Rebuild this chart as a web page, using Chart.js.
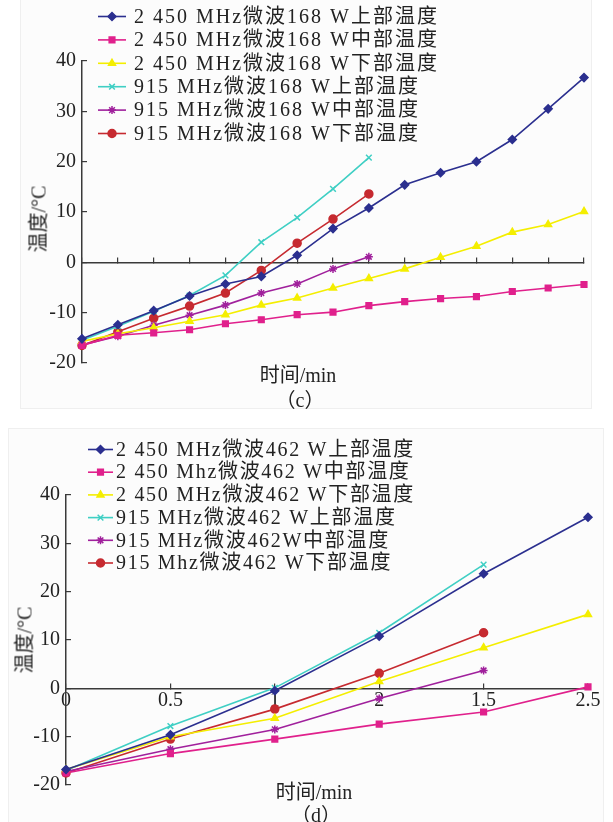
<!DOCTYPE html>
<html lang="zh">
<head>
    <meta charset="UTF-8">
    <title>微波解冻温度变化</title>
    <script src="https://cdn.jsdelivr.net/npm/chart.js"></script>
    <style>
        body {
            margin: 0;
            width: 613px;
            height: 822px;
            position: relative;
            overflow: hidden;
            background: #fff;
            font-family: "Liberation Serif", "Noto Sans CJK SC", serif;
            color: #222;
        }
        .panel {
            position: absolute;
            background: #fcfcfc;
            border: 1px solid #efefef;
        }
        canvas {
            position: absolute;
            left: 0;
        }
        .label {
            position: absolute;
            transform: translate(-50%, -50%);
            white-space: nowrap;
            font-size: 20px;
        }
        .ytitle {
            transform: translate(-50%, -50%) rotate(-90deg);
        }
    </style>
</head>
<body>
    <div class="panel" style="left:20px; top:-1px; width:570px; height:408px;"></div>
    <div class="panel" style="left:8px; top:428px; width:594px; height:400px;"></div>
    <canvas id="chartC" width="613" height="410" style="top:0;"></canvas>
    <canvas id="chartD" width="613" height="412" style="top:410px;"></canvas>

    <div class="label" style="left:298px; top:373px;">时间/min</div>
    <div class="label" style="left:300px; top:398px;">（c）</div>
    <div class="label ytitle" style="left:37px; top:219px;">温度/°C</div>

    <div class="label" style="left:314px; top:790px;">时间/min</div>
    <div class="label" style="left:316px; top:813px;">（d）</div>
    <div class="label ytitle" style="left:23px; top:640px;">温度/°C</div>

    <script>
        // (c) 168 W - 15 equal time steps, the original prints no time labels
        const stepsC = ['0', '1', '2', '3', '4', '5', '6', '7', '8', '9', '10', '11', '12', '13', '14'];
        const c2450Top = [-15.2, -12.4, -9.6, -6.7, -4.3, -2.8, 1.4, 6.7, 10.8, 15.4, 17.8, 20.0, 24.4, 30.5, 36.7];
        const c2450Mid = [-16.5, -14.5, -14.0, -13.4, -12.2, -11.4, -10.4, -9.9, -8.6, -7.8, -7.2, -6.8, -5.8, -5.1, -4.4];
        const c2450Low = [-15.7, -14.2, -13.0, -11.7, -10.4, -8.5, -7.1, -5.1, -3.2, -1.3, 1.0, 3.2, 6.0, 7.5, 10.1];
        const c915Top = [-15.5, -12.7, -9.7, -6.6, -2.6, 4.0, 8.9, 14.6, 20.8];
        const c915Mid = [-16.4, -14.7, -12.5, -10.5, -8.5, -6.1, -4.3, -1.3, 1.1];
        const c915Low = [-16.5, -13.8, -11.1, -8.7, -6.1, -1.6, 3.8, 8.6, 13.6];
        const namesC = [
            '2 450 MHz微波168 W上部温度',
            '2 450 MHz微波168 W中部温度',
            '2 450 MHz微波168 W下部温度',
            '915 MHz微波168 W上部温度',
            '915 MHz微波168 W中部温度',
            '915 MHz微波168 W下部温度'
        ];

        // (d) 462 W - tick labels copied as printed
        const timeD = ['0', '0.5', '1', '2', '1.5', '2.5'];
        const d2450Top = [-16.8, -9.6, -0.5, 10.8, 23.7, 35.4];
        const d2450Mid = [-17.5, -13.5, -10.5, -7.4, -4.9, 0.3];
        const d2450Low = [-16.8, -10.0, -6.2, 1.4, 8.4, 15.3];
        const d915Top = [-17.0, -7.8, 0.1, 11.5, 25.6];
        const d915Mid = [-17.2, -12.6, -8.5, -2.1, 3.7];
        const d915Low = [-17.5, -10.5, -4.3, 3.1, 11.5];
        const namesD = [
            '2 450 MHz微波462 W上部温度',
            '2 450 Mhz微波462 W中部温度',
            '2 450 MHz微波462 W下部温度',
            '915 MHz微波462 W上部温度',
            '915 MHz微波462W中部温度',
            '915 Mhz微波462 W下部温度'
        ];

        const yTicks = [-20, -10, 0, 10, 20, 30, 40];

        const looks = [
            { color: '#2b2f8f', style: 'rectRot', r: 4 },
            { color: '#e0208c', style: 'rect', r: 4 },
            { color: '#f4ee00', style: 'triangle', r: 4 },
            { color: '#3fcfc4', style: 'crossRot', r: 4 },
            { color: '#a0209c', style: 'star', r: 4 },
            { color: '#c62a30', style: 'circle', r: 4 }
        ];

        const axisColor = '#3a3a3a';
        const tickFont = { family: '"Liberation Serif", "Noto Sans CJK SC", serif', size: 20 };

        function makeSets(names, series) {
            return series.map((data, i) => ({
                label: names[i],
                data: data,
                borderColor: looks[i].color,
                backgroundColor: looks[i].color,
                pointBackgroundColor: looks[i].color,
                pointBorderColor: looks[i].color,
                pointStyle: looks[i].style,
                pointRadius: looks[i].r,
                pointBorderWidth: 1.5,
                borderWidth: 1.6,
                tension: 0,
                clip: false
            }));
        }

        // legend drawn inside the plot, line + marker + name
        const seriesKey = {
            id: 'seriesKey',
            afterDraw(chart, args, opts) {
                const ctx = chart.ctx;
                ctx.save();
                ctx.font = opts.font;
                ctx.textBaseline = 'middle';
                chart.data.datasets.forEach((ds, i) => {
                    const y = opts.top + i * opts.gap;
                    ctx.strokeStyle = ds.borderColor;
                    ctx.lineWidth = ds.borderWidth;
                    ctx.beginPath();
                    ctx.moveTo(opts.lineX, y);
                    ctx.lineTo(opts.lineX + opts.lineLen, y);
                    ctx.stroke();
                    ctx.fillStyle = ds.pointBackgroundColor;
                    ctx.lineWidth = 1.5;
                    const cx = opts.lineX + opts.lineLen / 2;
                    if (Chart.helpers && Chart.helpers.drawPoint) {
                        Chart.helpers.drawPoint(ctx, { pointStyle: ds.pointStyle, radius: ds.pointRadius, rotation: 0, borderWidth: 1.5 }, cx, y);
                    } else {
                        ctx.beginPath();
                        ctx.arc(cx, y, ds.pointRadius, 0, Math.PI * 2);
                        ctx.fill();
                    }
                    ctx.fillStyle = '#222';
                    ctx.letterSpacing = opts.spacing;
                    ctx.fillText(ds.label, opts.textX, y + 1);
                    ctx.letterSpacing = '0px';
                });
                ctx.restore();
            }
        };

        function makeChart(id, labels, sets, cfg) {
            return new Chart(document.getElementById(id), {
                type: 'line',
                data: { labels: labels, datasets: sets },
                options: {
                    responsive: false,
                    animation: false,
                    layout: { padding: cfg.padding },
                    plugins: {
                        legend: { display: false },
                        tooltip: { enabled: false },
                        seriesKey: cfg.key
                    },
                    scales: {
                        x: {
                            type: 'category',
                            position: { y: 0 },
                            offset: false,
                            grid: { drawOnChartArea: false, tickLength: -6, color: axisColor, lineWidth: 1.2 },
                            border: { color: axisColor, width: 1.5 },
                            ticks: {
                                display: cfg.showX,
                                autoSkip: false,
                                maxRotation: 0,
                                padding: 6,
                                color: '#222',
                                font: tickFont
                            }
                        },
                        y: {
                            min: -20,
                            max: 40,
                            afterBuildTicks: s => { s.ticks = yTicks.map(v => ({ value: v })); },
                            afterFit: s => { s.width = cfg.axisLeft; },
                            grid: { drawOnChartArea: false, tickLength: -5, color: axisColor, lineWidth: 1.2 },
                            border: { color: axisColor, width: 1.5 },
                            ticks: { padding: 11, color: '#222', font: tickFont }
                        }
                    }
                },
                plugins: [seriesKey]
            });
        }

        makeChart('chartC', stepsC,
            makeSets(namesC, [c2450Top, c2450Mid, c2450Low, c915Top, c915Mid, c915Low]), {
                padding: { top: 61, right: 29, bottom: 47, left: 0 },
                axisLeft: 82,
                showX: false,
                key: { font: '20px "Liberation Serif", "Noto Sans CJK SC", serif', spacing: '2px', top: 16.5, gap: 23.4, lineX: 98, lineLen: 28, textX: 134 }
            });

        makeChart('chartD', timeD,
            makeSets(namesD, [d2450Top, d2450Mid, d2450Low, d915Top, d915Mid, d915Low]), {
                padding: { top: 85, right: 25, bottom: 37, left: 0 },
                axisLeft: 66,
                showX: true,
                key: { font: '20px "Liberation Serif", "Noto Sans CJK SC", serif', spacing: '1.7px', top: 39.5, gap: 22.7, lineX: 88, lineLen: 25, textX: 116 }
            });
    </script>
</body>
</html>
